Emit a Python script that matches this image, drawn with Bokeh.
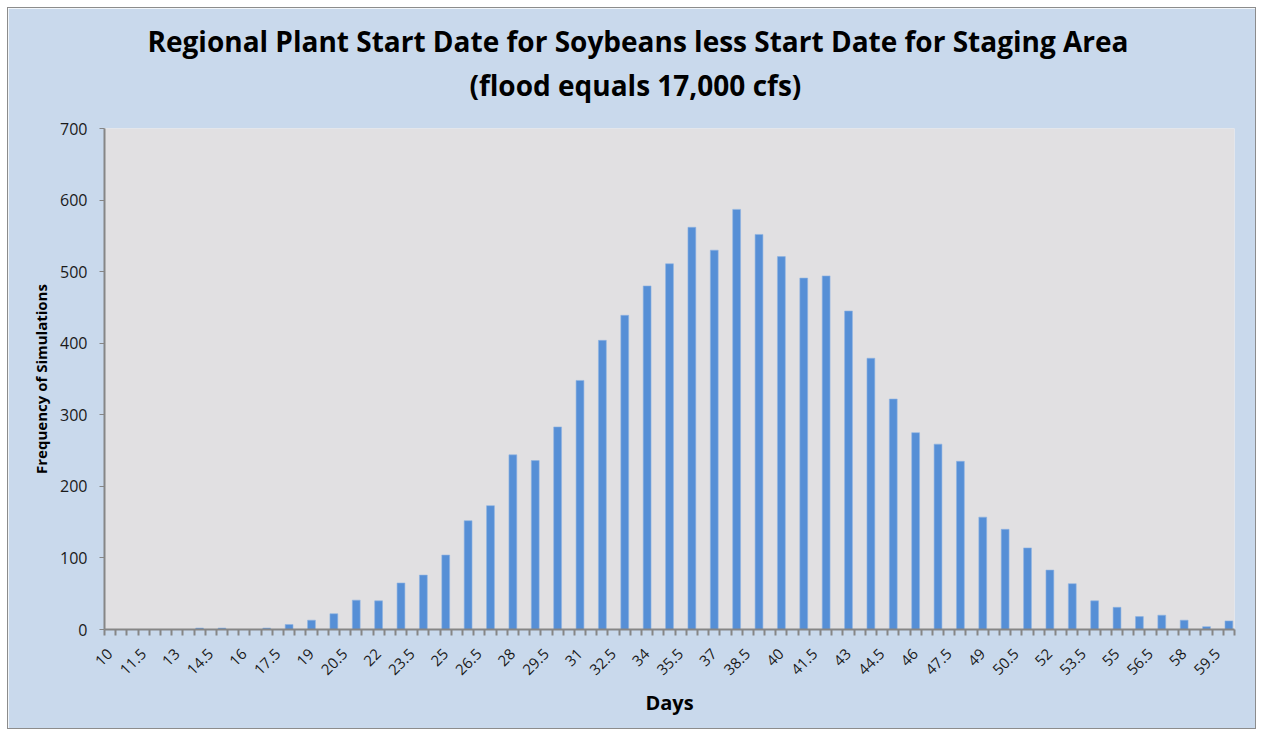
import math
from bokeh.plotting import figure
from bokeh.models import Range1d, FixedTicker, Title
from bokeh.embed import file_html
from bokeh.resources import INLINE

# ---- data -------------------------------------------------------------
days = list(range(10, 61))
freq = [0, 0, 0, 0, 2, 2, 0, 2, 7, 13,
        22, 41, 40, 65, 76, 104, 152, 173, 244, 236,
        283, 348, 404, 439, 480, 511, 562, 530, 587, 552,
        521, 491, 494, 445, 379, 322, 275, 259, 235, 157,
        140, 114, 83, 64, 40, 31, 18, 20, 13, 4,
        12]
tick_labels = ["10", "11.5", "13", "14.5", "16", "17.5", "19", "20.5", "22", "23.5",
               "25", "26.5", "28", "29.5", "31", "32.5", "34", "35.5", "37", "38.5",
               "40", "41.5", "43", "44.5", "46", "47.5", "49", "50.5", "52", "53.5",
               "55", "56.5", "58", "59.5"]
y_ticks = [0, 100, 200, 300, 400, 500, 600, 700]

title_line1 = "Regional Plant Start Date for Soybeans less Start Date for Staging Area"
title_line2 = "(flood equals 17,000 cfs)"

FONT = "Open Sans"
BG = "#C9D9EC"
PLOT_BG = "#E1E0E2"
BAR = "#568FD6"
AXIS = "#868686"
TXT = "#1A1A1A"

# ---- figure -----------------------------------------------------------
step = 0.5
p = figure(width=1249, height=722, output_backend="svg", toolbar_location=None,
           x_range=Range1d(days[0] - step / 2, days[-1] + step / 2),
           y_range=Range1d(0, 700),
           min_border_left=96, min_border_right=23, min_border_bottom=101,
           min_border_top=120, margin=7)
p.styles = {"border": "1px solid #8C8C8C"}
p.background_fill_color = PLOT_BG
p.border_fill_color = BG
p.outline_line_color = None
p.grid.visible = False

p.vbar(x=days, top=freq, width=0.35, fill_color=BAR, line_color="#8FB4E3", line_width=0.6)

# titles (p.title is the outer line, the added one sits next to the frame)
p.title.text = title_line1
p.title.align = "left"
p.title.offset = 43
p.title.text_font = FONT
p.title.text_font_size = "28px"
p.title.text_font_style = "bold"
p.title.text_color = "#000000"
p.title.standoff = -42
p.add_layout(Title(text=title_line2, align="left", offset=365, text_font=FONT,
                   text_font_size="28px", text_font_style="bold", text_color="#000000",
                   standoff=50), "above")

# x axis
tick_pos = [float(t) for t in tick_labels]
bounds = [days[0] - step / 2 + step * k for k in range(int((days[-1] - days[0]) / step) + 2)]
xa = p.xaxis[0]
xa.ticker = FixedTicker(ticks=tick_pos, minor_ticks=bounds)
xa.major_label_overrides = {pos: lab for pos, lab in zip(tick_pos, tick_labels)}
xa.major_tick_in = 0
xa.major_tick_out = 0
xa.minor_tick_in = 0
xa.minor_tick_out = 6
xa.minor_tick_line_color = AXIS
xa.minor_tick_line_width = 2
xa.axis_line_color = AXIS
xa.axis_line_width = 2
xa.major_label_orientation = math.pi / 4
xa.major_label_standoff = 16
xa.major_label_text_font = FONT
xa.major_label_text_font_size = "15px"
xa.major_label_text_color = TXT
xa.axis_label = "Days"
xa.axis_label_text_font = FONT
xa.axis_label_text_font_size = "20px"
xa.axis_label_text_font_style = "bold"
xa.axis_label_text_color = "#000000"
xa.axis_label_standoff = 6

# y axis
ya = p.yaxis[0]
ya.ticker = FixedTicker(ticks=y_ticks)
ya.major_tick_in = 0
ya.major_tick_out = 5
ya.major_tick_line_color = AXIS
ya.minor_tick_line_color = None
ya.axis_line_color = AXIS
ya.axis_line_width = 2
ya.major_label_standoff = 12
ya.major_label_text_font = FONT
ya.major_label_text_font_size = "16px"
ya.major_label_text_color = TXT
ya.axis_label = "Frequency of Simulations"
ya.axis_label_text_font = FONT
ya.axis_label_text_font_size = "15px"
ya.axis_label_text_font_style = "bold"
ya.axis_label_text_color = "#000000"
ya.axis_label_standoff = 6

open("out.html", "w").write(file_html(p, INLINE))
